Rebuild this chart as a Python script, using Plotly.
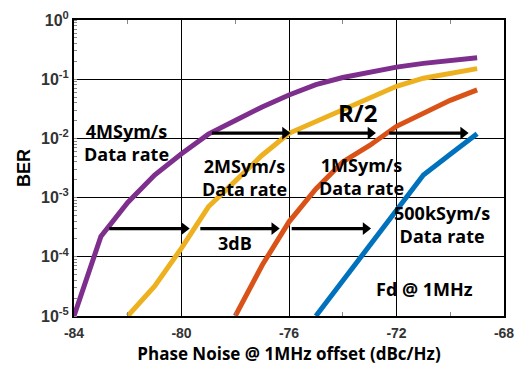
import plotly.graph_objects as go

# ---- data ----
pn_4m = [-84, -83, -82, -81, -80, -79, -78, -77, -76, -75, -74, -73, -72, -71, -70, -69]
ber_4m = [1e-5, 2.2e-4, 8.3e-4, 2.4e-3, 5.5e-3, 0.0118, 0.02, 0.034, 0.054, 0.081, 0.107, 0.133, 0.16, 0.185, 0.21, 0.23]

pn_2m = [-82, -81, -80, -79, -78, -77, -76, -75, -74, -73, -72, -71, -70, -69]
ber_2m = [1e-5, 3.2e-5, 1.4e-4, 7e-4, 1.9e-3, 5.2e-3, 0.0122, 0.0193, 0.031, 0.05, 0.076, 0.104, 0.128, 0.151]

pn_1m = [-78, -77, -76, -75, -74, -73, -72, -71, -70, -69]
ber_1m = [1e-5, 7.2e-5, 3.9e-4, 1.4e-3, 4e-3, 7.6e-3, 0.016, 0.027, 0.044, 0.066]

pn_500k = [-75, -74, -73, -72, -71, -70, -69]
ber_500k = [1e-5, 4e-5, 1.6e-4, 6.3e-4, 2.4e-3, 5.4e-3, 0.012]

series_colors = ["#7E2F8E", "#EDB120", "#D95319", "#0072BD"]

# arrows: tail x, tip x, BER level
arrow_tail_x = [-78.87, -75.68, -72.27, -82.69, -79.30, -75.90]
arrow_tip_x = [-75.93, -72.75, -69.30, -79.68, -76.33, -72.93]
arrow_ber = [0.0123, 0.0123, 0.0123, 3.0e-4, 3.0e-4, 3.0e-4]

x_tickvals = [-84, -80, -76, -72, -68]
x_ticktext = ["-84", "-80", "-76", "-72", "-68"]
x_minor_ticks = [-82, -78, -74, -70]
y_tickvals = [1e-5, 1e-4, 1e-3, 1e-2, 1e-1, 1]
y_ticktext = ["10<sup>-5</sup>", "10<sup>-4</sup>", "10<sup>-3</sup>", "10<sup>-2</sup>",
              "10<sup>-1</sup>", "10<sup>0</sup>"]

labels = ["4MSym/s<br>Data rate", "2MSym/s<br>Data rate", "1MSym/s<br>Data rate",
          "500kSym/s<br>Data rate", "R/2", "3dB", "Fd @ 1MHz"]

fig = go.Figure()
for xs, ys, c in zip([pn_4m, pn_2m, pn_1m, pn_500k],
                     [ber_4m, ber_2m, ber_1m, ber_500k], series_colors):
    fig.add_trace(go.Scatter(x=xs, y=ys, mode="lines",
                             line=dict(color=c, width=5), showlegend=False,
                             hoverinfo="skip"))

# arrows drawn as a shaft line + triangle head marker
HEAD_DB = 0.22  # head offset in dB (approx. head length on this scale)
for t, h, b in zip(arrow_tail_x, arrow_tip_x, arrow_ber):
    fig.add_trace(go.Scatter(x=[t, h - HEAD_DB], y=[b, b], mode="lines",
                             line=dict(color="black", width=3.3),
                             showlegend=False, hoverinfo="skip"))
    fig.add_trace(go.Scatter(x=[h - HEAD_DB], y=[b], mode="markers",
                             marker=dict(symbol="triangle-right", size=11, color="black",
                                         line=dict(width=0)),
                             showlegend=False, hoverinfo="skip"))

ann_font = dict(family="Open Sans", size=18, color="black", weight="bold")
label_pos = [(-82.03, -2.07), (-77.65, -2.66), (-73.29, -2.64), (-70.30, -3.45),
             (-73.44, -1.57), (-78.01, -3.76), (-70.95, -4.55)]
for txt, (lx, ly) in zip(labels, label_pos):
    f = dict(ann_font)
    if txt == "R/2":
        f["size"] = 24
    fig.add_annotation(x=lx, y=ly, xref="x", yref="y", text=txt, showarrow=False,
                       font=f, align="center", xanchor="center", yanchor="middle")

fig.update_layout(
    width=523, height=370,
    margin=dict(l=74, r=9, t=20, b=42),
    paper_bgcolor="white", plot_bgcolor="white",
    font=dict(family="Liberation Sans", color="#222"),
    xaxis=dict(
        range=[-84, -68], tickmode="array", tickvals=x_tickvals, ticktext=x_ticktext,
        showgrid=True, gridcolor="black", gridwidth=1.3, zeroline=False,
        showline=True, linecolor="black", linewidth=2, mirror="ticks", ticks="",
        ticklabelstandoff=3,
        tickfont=dict(family="Liberation Sans", size=14, color="#333", weight="bold"),
        minor=dict(tickmode="array", tickvals=x_minor_ticks, ticks="inside", ticklen=4,
                   tickcolor="#888", tickwidth=1, showgrid=False),
        title=dict(text="Phase Noise @ 1MHz offset (dBc/Hz)", standoff=8,
                   font=dict(family="Open Sans", size=17, color="black", weight="bold")),
    ),
    yaxis=dict(
        type="log", range=[-5, 0], tickmode="array", tickvals=y_tickvals, ticktext=y_ticktext,
        showgrid=True, gridcolor="black", gridwidth=1.3, zeroline=False,
        showline=True, linecolor="black", linewidth=2, mirror=True, ticks="",
        tickfont=dict(family="Liberation Sans", size=16, color="#333", weight="bold"),
        minor=dict(dtick="D1", ticks="inside", ticklen=3, tickcolor="#888", tickwidth=1,
                   showgrid=False),
        title=dict(text="BER", standoff=6,
                   font=dict(family="Liberation Sans", size=18, color="black", weight="bold")),
    ),
)

fig.write_html("out.html")
